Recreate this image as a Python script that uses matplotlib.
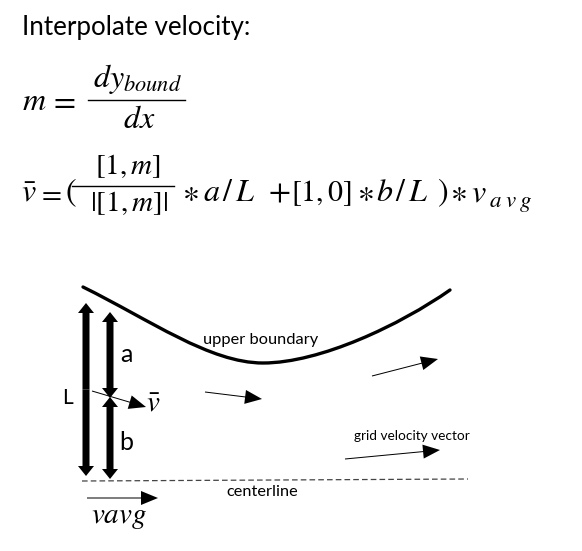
import matplotlib
matplotlib.use("Agg")
import matplotlib.pyplot as plt
from matplotlib.path import Path
from matplotlib.patches import PathPatch

plt.rcParams['mathtext.fontset'] = 'stix'
SANS = ['Lato', 'DejaVu Sans']

# ---- diagram data (pixel coordinates of the sketch) ----
title = "Interpolate velocity:"
# equation pieces: (tex, x, baseline_y, ha, fontsize)
eq1_pieces = [(r'$m$', 22, 110, 'left', 23), (r'$=$', 49, 110, 'left', 23),
              (r'$dy_{bound}$', 137, 87, 'center', 23), (r'$dx$', 139, 128, 'center', 23)]
eq1_bar = ([88, 185], [100, 100])
eq2_pieces = [(r'$\bar{v}$', 21, 201, 'left', 23), (r'$=$', 37, 201, 'left', 21),
              (r'$($', 65, 201, 'left', 23),
              (r'$[1,m]$', 128, 174, 'center', 21), (r'$|[1,m]|$', 129, 211, 'center', 21),
              (r'$\ast$', 182, 201, 'left', 23), (r'$a\,/\,L$', 203, 201, 'left', 23),
              (r'$+$', 268, 201, 'left', 23), (r'$[1,0]$', 291, 201, 'left', 21.5),
              (r'$\ast$', 357, 201, 'left', 23), (r'$b\,/\,L$', 376, 201, 'left', 23),
              (r'$)$', 437, 201, 'left', 23), (r'$\ast$', 450, 201, 'left', 23),
              (r'$v$', 471, 201, 'left', 23), (r'$a\;v\;g$', 489, 207, 'left', 16.5)]
eq2_bar = ([72, 174], [186, 186])
# upper boundary: two cubic Bezier segments (start, ctrl, ctrl, end, ctrl, ctrl, end)
boundary_x = [83, 150, 210, 263, 320, 400, 450]
boundary_y = [287, 320, 363, 363, 363, 325, 290]
# thick double-headed dimension arrows: (x, y_top, y_bottom)
dim_arrows = {'L': (86, 303, 476), 'a': (110, 312, 398), 'b': (110, 397, 479)}
dim_labels = {'L': (68, 398, 15), 'a': (126, 355, 18), 'b': (126, 443, 18)}
# thin velocity arrows: (x_tail, y_tail, x_tip, y_tip)
grid_vectors = [(205, 392, 262, 399), (372, 376, 438, 359), (345, 459, 440, 450)]
vbar_arrow = (92, 391, 146, 407)
vavg_arrow = (87, 498, 158, 498)
centerline_x = [82, 468]
centerline_y = [481, 479]

fig = plt.figure(figsize=(5.82, 5.51), dpi=100)
ax = fig.add_axes([0, 0, 1, 1])
ax.set_xlim(0, 582)
ax.set_ylim(551, 0)
ax.axis('off')

# ---- header text and equations ----
ax.text(22, 35, title, fontsize=18.7, family=SANS, va='baseline', ha='left')

for tex, x, y, ha, fs in eq1_pieces + eq2_pieces:
    ax.text(x, y, tex, fontsize=fs, va='baseline', ha=ha)
ax.plot(*eq1_bar, color='black', lw=1.0)
ax.plot(*eq2_bar, color='black', lw=1.0)

# ---- upper boundary ----
verts = list(zip(boundary_x, boundary_y))
codes = [Path.MOVETO] + [Path.CURVE4] * 6
ax.add_patch(PathPatch(Path(verts, codes), fill=False, lw=2.4, color='black',
                       capstyle='round'))
ax.text(203, 340, 'upper boundary', fontsize=11.8, family=SANS, va='center', ha='left')

# ---- thick dimension arrows ----
for key, (x, y0, y1) in dim_arrows.items():
    ym = (y0 + y1) / 2
    for yt in (y0, y1):
        ax.arrow(x, ym, 0, yt - ym, width=7, head_width=16, head_length=10,
                 length_includes_head=True, color='black', lw=0)
for key, (x, y, fs) in dim_labels.items():
    ax.text(x, y, key, fontsize=fs, family=SANS, va='center', ha='center')

# ---- thin arrows ----
def thin(a):
    x0, y0, x1, y1 = a
    ax.arrow(x0, y0, x1 - x0, y1 - y0, width=1.0, head_width=14, head_length=17,
             length_includes_head=True, color='black', lw=0)

for g in grid_vectors:
    thin(g)
thin(vbar_arrow)
ax.text(146, 411, r'$\bar{v}$', fontsize=21, va='baseline', ha='left')
ax.text(354, 436, 'grid velocity vector', fontsize=9.8, family=SANS, va='center', ha='left')

# ---- centerline and v_avg ----
ax.plot(centerline_x, centerline_y, color='#444444', lw=0.9, ls=(0, (4.5, 2.5)))
ax.text(226, 492, 'centerline', fontsize=11.8, family=SANS, va='center', ha='left')
thin(vavg_arrow)
ax.text(91, 523, r'$vavg$', fontsize=21, va='baseline', ha='left')

fig.savefig('out.png', dpi=100)
